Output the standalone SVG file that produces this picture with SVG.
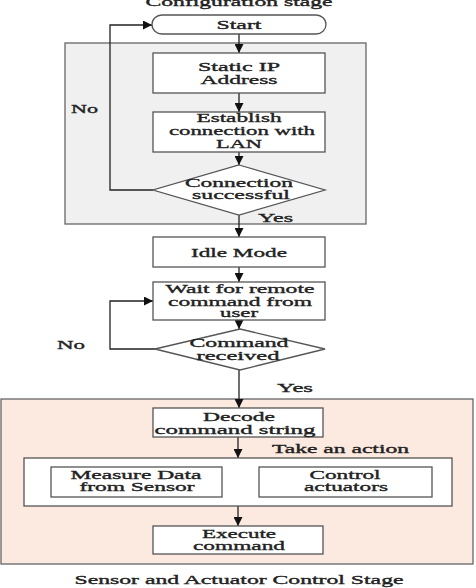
<svg xmlns="http://www.w3.org/2000/svg" width="476" height="588" viewBox="0 0 476 588">
<defs>
<style>
text{font-family:"Liberation Serif","Times New Roman",serif;font-size:13px;fill:#222;stroke:#222;stroke-width:0.35;text-anchor:middle}
.box{fill:#fff;stroke:#555;stroke-width:1.3}
.ln{fill:none;stroke:#222;stroke-width:1.3}
.lbl{text-anchor:start}
</style>
<marker id="ah" viewBox="0 0 10 10" refX="10" refY="5" markerWidth="9" markerHeight="9" markerUnits="userSpaceOnUse" orient="auto">
<path d="M0,0 L10,5 L0,10 z" fill="#111"/>
</marker>
</defs>
<rect width="476" height="588" fill="#fff"/>
<g id="stage-config">
<rect x="65" y="43" width="301" height="181" fill="#f0f0f0" stroke="#666" stroke-width="1.3"/>
<text x="239" y="6" textLength="187" lengthAdjust="spacingAndGlyphs">Configuration stage</text>
</g>
<g id="stage-sensor">
<rect x="1" y="399" width="472" height="165" fill="#fce9df" stroke="#666" stroke-width="1.3"/>
<text x="239" y="584" textLength="329" lengthAdjust="spacingAndGlyphs">Sensor and Actuator Control Stage</text>
</g>
<g id="connectors">
<line class="ln" x1="239" y1="34" x2="239" y2="53" marker-end="url(#ah)"/>
<line class="ln" x1="239" y1="93" x2="239" y2="112" marker-end="url(#ah)"/>
<line class="ln" x1="239" y1="152" x2="239" y2="165" marker-end="url(#ah)"/>
<polyline class="ln" points="153,190 110,190 110,25 152,25" marker-end="url(#ah)"/>
<line class="ln" x1="239" y1="215" x2="239" y2="237" marker-end="url(#ah)"/>
<line class="ln" x1="239" y1="267" x2="239" y2="282" marker-end="url(#ah)"/>
<line class="ln" x1="239" y1="320" x2="239" y2="329" marker-end="url(#ah)"/>
<polyline class="ln" points="155,349 110,349 110,301 153,301" marker-end="url(#ah)"/>
<line class="ln" x1="239" y1="370" x2="239" y2="408" marker-end="url(#ah)"/>
<line class="ln" x1="238" y1="437" x2="238" y2="458" marker-end="url(#ah)"/>
<line class="ln" x1="238" y1="506" x2="238" y2="526" marker-end="url(#ah)"/>
<text class="lbl" x="71" y="113" textLength="27" lengthAdjust="spacingAndGlyphs">No</text>
<text class="lbl" x="258" y="222" textLength="35" lengthAdjust="spacingAndGlyphs">Yes</text>
<text class="lbl" x="57" y="349" textLength="28" lengthAdjust="spacingAndGlyphs">No</text>
<text class="lbl" x="277" y="392" textLength="36" lengthAdjust="spacingAndGlyphs">Yes</text>
<text class="lbl" x="272" y="453" textLength="137" lengthAdjust="spacingAndGlyphs">Take an action</text>
</g>
<g id="start">
<rect class="box" x="152" y="15" width="174" height="19" rx="10" ry="9.5"/>
<text x="239" y="29" textLength="45" lengthAdjust="spacingAndGlyphs">Start</text>
</g>
<g id="static-ip">
<rect class="box" x="153" y="53" width="172" height="40"/>
<text x="239" y="71" textLength="82" lengthAdjust="spacingAndGlyphs">Static IP</text>
<text x="239" y="84" textLength="77" lengthAdjust="spacingAndGlyphs">Address</text>
</g>
<g id="establish">
<rect class="box" x="153" y="112" width="172" height="40"/>
<text x="239" y="122" textLength="85" lengthAdjust="spacingAndGlyphs">Establish</text>
<text x="242" y="135" textLength="146" lengthAdjust="spacingAndGlyphs">connection with</text>
<text x="239" y="148" textLength="46" lengthAdjust="spacingAndGlyphs">LAN</text>
</g>
<g id="conn-ok">
<polygon class="box" points="239,165 325,190 239,215 153,190"/>
<text x="239" y="187" textLength="108" lengthAdjust="spacingAndGlyphs">Connection</text>
<text x="241" y="199" textLength="98" lengthAdjust="spacingAndGlyphs">successful</text>
</g>
<g id="idle">
<rect class="box" x="153" y="237" width="172" height="30"/>
<text x="239" y="257" textLength="96" lengthAdjust="spacingAndGlyphs">Idle Mode</text>
</g>
<g id="wait">
<rect class="box" x="153" y="282" width="172" height="38"/>
<text x="240" y="293" textLength="149" lengthAdjust="spacingAndGlyphs">Wait for remote</text>
<text x="240" y="306" textLength="144" lengthAdjust="spacingAndGlyphs">command from</text>
<text x="239" y="317" textLength="38" lengthAdjust="spacingAndGlyphs">user</text>
</g>
<g id="cmd-recv">
<polygon class="box" points="240,329 325,349 240,370 155,349"/>
<text x="239" y="347" textLength="99" lengthAdjust="spacingAndGlyphs">Command</text>
<text x="238" y="360" textLength="83" lengthAdjust="spacingAndGlyphs">received</text>
</g>
<g id="decode">
<rect class="box" x="153" y="408" width="170" height="29"/>
<text x="239" y="421" textLength="72" lengthAdjust="spacingAndGlyphs">Decode</text>
<text x="235" y="434" textLength="161" lengthAdjust="spacingAndGlyphs">command string</text>
</g>
<g id="action">
<rect class="box" x="24" y="458" width="428" height="48"/>
</g>
<g id="measure">
<rect class="box" x="51" y="467" width="171" height="30"/>
<text x="136" y="479" textLength="131" lengthAdjust="spacingAndGlyphs">Measure Data</text>
<text x="137" y="491" textLength="115" lengthAdjust="spacingAndGlyphs">from Sensor</text>
</g>
<g id="control">
<rect class="box" x="259" y="467" width="173" height="30"/>
<text x="345" y="479" textLength="71" lengthAdjust="spacingAndGlyphs">Control</text>
<text x="346" y="491" textLength="84" lengthAdjust="spacingAndGlyphs">actuators</text>
</g>
<g id="execute">
<rect class="box" x="153" y="526" width="170" height="28"/>
<text x="239" y="538" textLength="74" lengthAdjust="spacingAndGlyphs">Execute</text>
<text x="239" y="550" textLength="92" lengthAdjust="spacingAndGlyphs">command</text>
</g>
</svg>
